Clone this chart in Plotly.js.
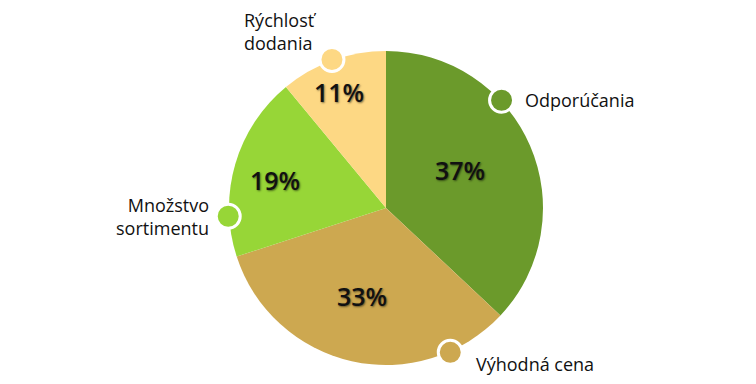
<!DOCTYPE html>
<html>
<head>
<meta charset="utf-8">
<script src="https://cdn.plot.ly/plotly-3.0.1.min.js"></script>
<style>html,body{margin:0;padding:0;background:#fff;}#chart{width:756px;height:384px;}</style>
</head>
<body>
<div id="chart"></div>
<script>
// Data
const categories = ["Odporúčania", "Výhodná cena", "Množstvo sortimentu", "Rýchlosť dodania"];
const labelTexts = ["Odporúčania", "Výhodná cena", "Množstvo<br>sortimentu", "Rýchlosť<br>dodania"];
const values = [37, 33, 19, 11];
const colors = ["#6b9a2b", "#cda850", "#97d637", "#fdd884"];

// Layout config
const W = 756, H = 384;
const cx = 386, cy = 208, R = 157;
const markerAngles = [47, 156, 267, 340]; // degrees clockwise from top
const pctAngles = [63, 195, 284, 338];
const pctRadii = [0.53, 0.58, 0.73, 0.80];
const labelCfg = [
  {xanchor: "left", yanchor: "middle", xshift: 21, yshift: 0, align: "left"},
  {xanchor: "left", yanchor: "middle", xshift: 24, yshift: -12, align: "left"},
  {xanchor: "right", yanchor: "middle", xshift: -17, yshift: 0, align: "right"},
  {xanchor: "right", yanchor: "bottom", xshift: -13, yshift: 3, align: "left"}
];

const total = values.reduce((s, v) => s + v, 0);
const shapes = [], annotations = [];
const toPaper = (px, py) => [px / W, 1 - py / H];
markerAngles.forEach((a, i) => {
  const rad = a * Math.PI / 180;
  const [xp, yp] = toPaper(cx + (R + 1) * Math.sin(rad), cy - (R + 1) * Math.cos(rad));
  shapes.push({
    type: "circle", xref: "paper", yref: "paper",
    xsizemode: "pixel", ysizemode: "pixel",
    xanchor: xp, yanchor: yp, x0: -12, x1: 12, y0: -12, y1: 12,
    fillcolor: colors[i], line: {color: "#ffffff", width: 3}
  });
  const c = labelCfg[i];
  annotations.push({
    xref: "paper", yref: "paper", x: xp, y: yp, showarrow: false,
    text: labelTexts[i], xanchor: c.xanchor, yanchor: c.yanchor,
    xshift: c.xshift, yshift: c.yshift, align: c.align,
    font: {family: "Open Sans, sans-serif", size: 18, color: "#111111"}
  });
  const pr = pctAngles[i] * Math.PI / 180;
  const [tx, ty] = toPaper(cx + R * pctRadii[i] * Math.sin(pr), cy - R * pctRadii[i] * Math.cos(pr));
  annotations.push({
    xref: "paper", yref: "paper", x: tx, y: ty, showarrow: false,
    text: Math.round(values[i] / total * 100) + "%", xanchor: "center", yanchor: "middle",
    font: {family: "Open Sans, sans-serif", size: 25, color: "#111111", weight: 600,
           shadow: "1px 1px 2px rgba(0,0,0,0.5)"}
  });
});

const trace = {
  type: "pie",
  values: values,
  labels: categories,
  sort: false,
  direction: "clockwise",
  rotation: 0,
  marker: {colors: colors, line: {width: 0}},
  textinfo: "none",
  hoverinfo: "none",
  domain: {x: [(cx - R) / W, (cx + R) / W], y: [(H - cy - R) / H, (H - cy + R) / H]}
};

Plotly.newPlot("chart", [trace], {
  width: W, height: H,
  margin: {l: 0, r: 0, t: 0, b: 0},
  showlegend: false,
  paper_bgcolor: "#ffffff",
  shapes: shapes,
  annotations: annotations
}, {displayModeBar: false, staticPlot: true});
</script>
</body>
</html>
